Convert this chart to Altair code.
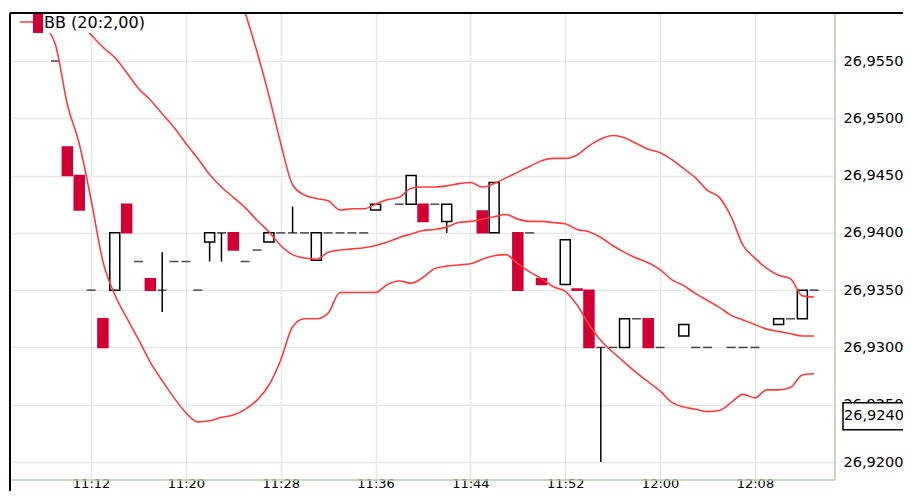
import altair as alt
import pandas as pd

# ---------------- data ----------------
candle_times = ["11:09", "11:10", "11:11", "11:12", "11:13", "11:14", "11:15", "11:16", "11:17", "11:18",
                "11:19", "11:20", "11:21", "11:22", "11:23", "11:24", "11:25", "11:26", "11:27", "11:28",
                "11:29", "11:30", "11:31", "11:32", "11:33", "11:34", "11:35", "11:36", "11:38", "11:39",
                "11:40", "11:41", "11:42", "11:45", "11:46", "11:48", "11:49", "11:50", "11:52", "11:53",
                "11:54", "11:55", "11:56", "11:57", "11:58", "11:59", "12:00", "12:02", "12:03", "12:04",
                "12:06", "12:07", "12:08", "12:10", "12:11", "12:12", "12:13"]
opens = [26.9550, 26.9475, 26.9450, 26.9350, 26.9325, 26.9350, 26.9425, 26.9375, 26.9360, 26.9350,
         26.9375, 26.9375, 26.9350, 26.9392, 26.9400, 26.9400, 26.9375, 26.9385, 26.9392, 26.9400,
         26.9400, 26.9400, 26.9376, 26.9400, 26.9400, 26.9400, 26.9400, 26.9420, 26.9425, 26.9425,
         26.9425, 26.9425, 26.9410, 26.9419, 26.9400, 26.9400, 26.9400, 26.9360, 26.9355, 26.9351,
         26.9350, 26.9300, 26.9300, 26.9300, 26.9325, 26.9325, 26.9300, 26.9310, 26.9300, 26.9300,
         26.9300, 26.9300, 26.9300, 26.9320, 26.9325, 26.9325, 26.9350]
highs = [26.9550, 26.9475, 26.9450, 26.9350, 26.9325, 26.9400, 26.9425, 26.9375, 26.9360, 26.9383,
         26.9375, 26.9375, 26.9350, 26.9400, 26.9400, 26.9400, 26.9375, 26.9385, 26.9400, 26.9400,
         26.9423, 26.9400, 26.9400, 26.9400, 26.9400, 26.9400, 26.9400, 26.9425, 26.9425, 26.9450,
         26.9425, 26.9425, 26.9425, 26.9419, 26.9444, 26.9400, 26.9400, 26.9360, 26.9394, 26.9351,
         26.9350, 26.9300, 26.9300, 26.9325, 26.9325, 26.9325, 26.9300, 26.9320, 26.9300, 26.9300,
         26.9300, 26.9300, 26.9300, 26.9325, 26.9325, 26.9350, 26.9350]
lows = [26.9550, 26.9450, 26.9420, 26.9350, 26.9300, 26.9350, 26.9400, 26.9375, 26.9350, 26.9331,
        26.9375, 26.9375, 26.9350, 26.9375, 26.9375, 26.9385, 26.9375, 26.9385, 26.9392, 26.9400,
        26.9400, 26.9400, 26.9376, 26.9400, 26.9400, 26.9400, 26.9400, 26.9420, 26.9425, 26.9425,
        26.9410, 26.9425, 26.9400, 26.9400, 26.9400, 26.9350, 26.9400, 26.9355, 26.9355, 26.9350,
        26.9300, 26.9200, 26.9300, 26.9300, 26.9325, 26.9300, 26.9300, 26.9310, 26.9300, 26.9300,
        26.9300, 26.9300, 26.9300, 26.9320, 26.9325, 26.9325, 26.9350]
closes = [26.9550, 26.9450, 26.9420, 26.9350, 26.9300, 26.9400, 26.9400, 26.9375, 26.9350, 26.9350,
          26.9375, 26.9375, 26.9350, 26.9400, 26.9400, 26.9385, 26.9375, 26.9385, 26.9400, 26.9400,
          26.9400, 26.9400, 26.9400, 26.9400, 26.9400, 26.9400, 26.9400, 26.9425, 26.9425, 26.9450,
          26.9410, 26.9425, 26.9425, 26.9400, 26.9444, 26.9350, 26.9400, 26.9355, 26.9394, 26.9350,
          26.9300, 26.9300, 26.9300, 26.9325, 26.9325, 26.9300, 26.9300, 26.9320, 26.9300, 26.9300,
          26.9300, 26.9300, 26.9300, 26.9325, 26.9325, 26.9350, 26.9350]

# Bollinger band (20:2,00) per minute, 11:06 .. 12:13
band_times = ["%d:%02d" % (11 + (m // 60), m % 60) for m in range(6, 74)]
bb_upper = [26.9656, 26.9656, 26.9650, 26.9646, 26.9678, 26.9690, 26.9717, 26.9749, 26.9760, 26.9754,
            26.9745, 26.9745, 26.9737, 26.9728, 26.9713, 26.9695, 26.9666, 26.9641, 26.9621, 26.9592,
            26.9558, 26.9520, 26.9478, 26.9442, 26.9433, 26.9430, 26.9428, 26.9420, 26.9421, 26.9421,
            26.9425, 26.9429, 26.9431, 26.9439, 26.9440, 26.9440, 26.9441, 26.9443, 26.9444, 26.9440,
            26.9443, 26.9448, 26.9453, 26.9458, 26.9463, 26.9465, 26.9465, 26.9468, 26.9476, 26.9482,
            26.9485, 26.9483, 26.9478, 26.9473, 26.9470, 26.9464, 26.9456, 26.9448, 26.9437, 26.9431,
            26.9414, 26.9389, 26.9378, 26.9369, 26.9363, 26.9360, 26.9345, 26.9344]
bb_middle = [26.9620, 26.9620, 26.9615, 26.9605, 26.9595, 26.9584, 26.9573, 26.9562, 26.9553, 26.9540,
             26.9526, 26.9516, 26.9504, 26.9492, 26.9478, 26.9465, 26.9451, 26.9440, 26.9431, 26.9422,
             26.9411, 26.9401, 26.9389, 26.9381, 26.9378, 26.9377, 26.9383, 26.9385, 26.9386, 26.9387,
             26.9389, 26.9392, 26.9396, 26.9399, 26.9402, 26.9403, 26.9405, 26.9409, 26.9410, 26.9412,
             26.9414, 26.9416, 26.9412, 26.9410, 26.9410, 26.9409, 26.9408, 26.9403, 26.9401, 26.9396,
             26.9389, 26.9383, 26.9378, 26.9374, 26.9368, 26.9359, 26.9354, 26.9347, 26.9341, 26.9335,
             26.9328, 26.9324, 26.9320, 26.9316, 26.9314, 26.9312, 26.9310, 26.9310]
bb_lower = [26.9584, 26.9584, 26.9580, 26.9564, 26.9512, 26.9478, 26.9429, 26.9375, 26.9346, 26.9326,
            26.9307, 26.9287, 26.9271, 26.9256, 26.9243, 26.9235, 26.9236, 26.9239, 26.9241, 26.9246,
            26.9254, 26.9267, 26.9289, 26.9318, 26.9325, 26.9325, 26.9330, 26.9348, 26.9348, 26.9348,
            26.9348, 26.9355, 26.9358, 26.9356, 26.9361, 26.9369, 26.9371, 26.9372, 26.9373, 26.9377,
            26.9380, 26.9381, 26.9373, 26.9366, 26.9360, 26.9353, 26.9349, 26.9337, 26.9320, 26.9306,
            26.9296, 26.9287, 26.9278, 26.9270, 26.9262, 26.9252, 26.9248, 26.9246, 26.9244, 26.9245,
            26.9252, 26.9259, 26.9256, 26.9263, 26.9263, 26.9265, 26.9276, 26.9277]

y_ticks = [26.9200, 26.9250, 26.9300, 26.9350, 26.9400, 26.9450, 26.9500, 26.9550]
x_ticks = ["11:12", "11:20", "11:28", "11:36", "11:44", "11:52", "12:00", "12:08"]
legend_label = "BB (20:2,00)"
marker_price = 26.9240
marker_label = "26,9240"


def to_min(s):
    h, m = s.split(":")
    return (int(h) - 11) * 60 + int(m)


# ---------------- tables ----------------
candles = pd.DataFrame({"t": [to_min(s) for s in candle_times], "o": opens, "h": highs,
                        "l": lows, "c": closes})
candles["kind"] = ["up" if c > o else ("down" if c < o else "flat") for o, c in zip(opens, closes)]

bands = pd.concat([
    pd.DataFrame({"t": [to_min(s) for s in band_times], "v": vals, "band": name})
    for name, vals in [("upper", bb_upper), ("middle", bb_middle), ("lower", bb_lower)]
])

one = pd.DataFrame({"a": [0]})
marker = pd.DataFrame({"p": [marker_price], "label": [marker_label]})

# ---------------- style ----------------
W, H = 825, 467
FONT = "DejaVu Sans"
RED_LINE = "#ff3b3b"
RED_BODY = "#d10034"
GRID = "#e8e8e8"
FRAME_GREEN = "#b4ccaa"
AX_FS = 14.5

xs = alt.Scale(domain=[5.583, 74.333], nice=False, zero=False)
ys = alt.Scale(domain=[26.91843, 26.95919], nice=False, zero=False)

x_axis = alt.Axis(values=[to_min(s) for s in x_ticks], grid=True, gridColor=GRID, gridWidth=1.5,
                  domain=False, ticks=False, labelFont=FONT, labelFontSize=13, labelColor="black",
                  labelBaseline="alphabetic", labelPadding=7.7, labelFlush=False,
                  labelExpr="floor(11 + datum.value / 60) + ':' + (datum.value % 60 < 10 ? '0' : '') + (datum.value % 60)")
y_axis = alt.Axis(orient="right", values=y_ticks, grid=True, gridColor=GRID, gridWidth=1.5,
                  domain=False, ticks=False, labelFont=FONT, labelFontSize=AX_FS, labelColor="black",
                  labelPadding=8, labelBaseline="middle", labelFlush=False,
                  labelExpr="replace(format(datum.value, '.4f'), '.', ',')")


def X(field="t"):
    return alt.X(f"{field}:Q", scale=xs, axis=x_axis, title=None)


def Y(field):
    return alt.Y(f"{field}:Q", scale=ys, axis=y_axis, title=None)


base = alt.Chart(candles)

wicks = base.transform_filter("datum.h > datum.l").mark_rule(
    clip=True, color="black", strokeWidth=1.5
).encode(x=X(), y=Y("l"), y2="h:Q")

bodies = base.transform_filter("datum.kind != 'flat'").mark_bar(
    clip=True, size=10, strokeWidth=1.5
).encode(
    x=X(), y=Y("o"), y2="c:Q",
    fill=alt.condition("datum.kind == 'up'", alt.value("white"), alt.value(RED_BODY)),
    stroke=alt.condition("datum.kind == 'up'", alt.value("black"), alt.value(RED_BODY)),
)

dojis = base.transform_filter("datum.kind == 'flat'").mark_tick(
    clip=True, orient="horizontal", size=9, thickness=1.5, color="black"
).encode(x=X(), y=Y("c"))

lines = alt.Chart(bands).mark_line(
    clip=True, interpolate="monotone", strokeWidth=1.6, color=RED_LINE
).encode(x=X(), y=Y("v"), detail="band:N")

# legend box
leg_bg = alt.Chart(one).mark_rect(color="white").encode(
    x=alt.value(23), x2=alt.value(137), y=alt.value(0), y2=alt.value(20))
leg_sw = alt.Chart(one).mark_rect(color=RED_BODY).encode(
    x=alt.value(23), x2=alt.value(33), y=alt.value(0), y2=alt.value(20))
leg_tx = alt.Chart(one).mark_text(
    text=legend_label, font=FONT, fontSize=16, align="left", baseline="middle", color="black"
).encode(x=alt.value(34), y=alt.value(10))

# frame
top_line = alt.Chart(one).mark_rule(color="black", strokeWidth=2).encode(
    x=alt.value(0), x2=alt.value(W + 80), y=alt.value(0))
left_line = alt.Chart(one).mark_rule(color="black", strokeWidth=2).encode(
    x=alt.value(0), y=alt.value(0), y2=alt.value(H + 25))
right_line = alt.Chart(one).mark_rule(color=FRAME_GREEN, strokeWidth=1.5).encode(
    x=alt.value(W), y=alt.value(0), y2=alt.value(H))
bottom_line = alt.Chart(one).mark_rule(color=FRAME_GREEN, strokeWidth=1.5).encode(
    x=alt.value(0), x2=alt.value(W), y=alt.value(H))

# current price marker on the right axis
mk_box = alt.Chart(marker).mark_point(
    shape="M-1,-0.375L1,-0.375L1,0.375L-1,0.375Z", size=5184, filled=True,
    fill="white", stroke="black", strokeWidth=1.5, opacity=1
).encode(x=alt.value(869), y=Y("p"))
mk_text = alt.Chart(marker).mark_text(
    font=FONT, fontSize=AX_FS, align="left", baseline="middle", color="black"
).encode(x=alt.value(834), y=Y("p"), text="label:N")

chart = alt.layer(
    wicks, bodies, dojis, lines, leg_bg, leg_sw, leg_tx,
    right_line, bottom_line, top_line, left_line, mk_box, mk_text
).properties(
    width=W, height=H,
    autosize=alt.AutoSizeParams(type="none"),
    padding={"left": 2, "top": 5, "right": 68, "bottom": 11},
    background="white",
).configure_view(stroke=None)

chart.save("out.html", embed_options={"renderer": "svg", "actions": False})
